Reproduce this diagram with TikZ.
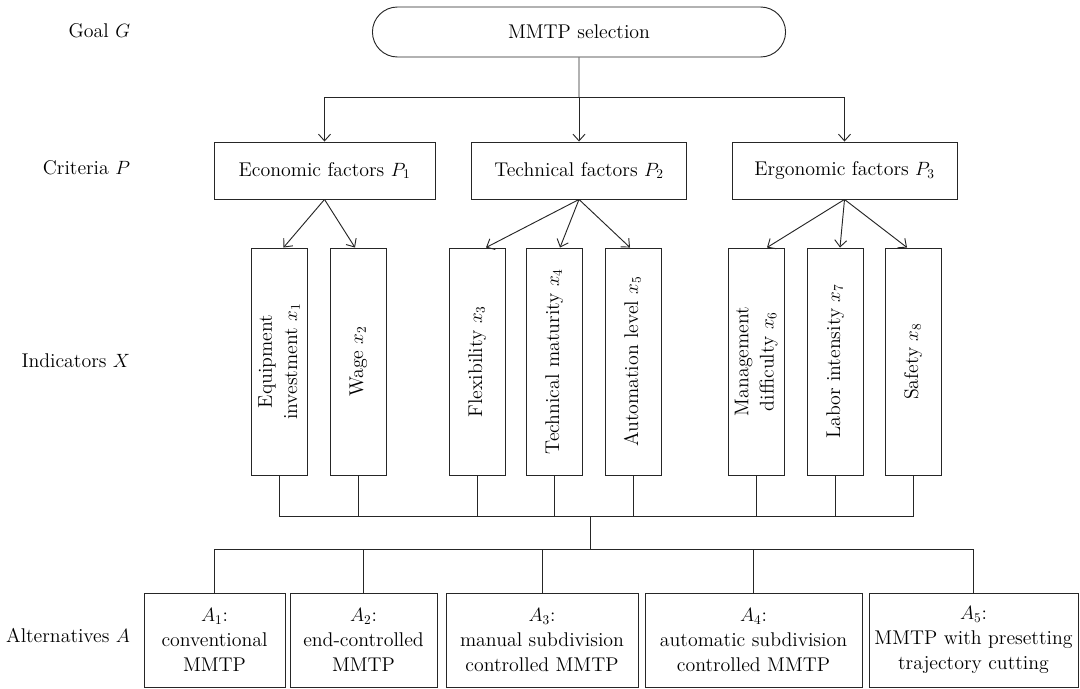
\documentclass[tikz,border=0pt]{standalone}
\usepackage{amsmath}
\usepackage{tikz}
\usetikzlibrary{arrows.meta,calc,positioning,shapes.misc}
\newcommand{\vtext}[1]{\rotatebox{90}{\begin{tabular}{@{}c@{}}#1\end{tabular}}}
\tikzset{%
	goal/.style     = {draw, rounded rectangle, minimum width=316.5pt, minimum height=37.5pt},
	crit/.style     = {draw, rectangle, minimum height=42.75pt, text centered},
	indic/.style    = {draw, rectangle, minimum width=42pt, minimum height=170.25pt, inner sep=0pt},
	alt/.style      = {draw, rectangle, minimum height=70.5pt, inner sep=1pt, align=center}, % Alternative
	level/.style    = {anchor=east}, % Level label
	arrow/.style    = {-{Straight Barb[length=5pt,width=9pt]}},
}

\begin{document}
\begin{tikzpicture}[x=0.75pt,y=-0.75pt,line width=0.7pt,draw=black!85,
	font=\fontsize{14.9pt}{18.8pt}\selectfont]
	\useasboundingbox (0,0) rectangle (1080,688);
	% level labels
	\node [level] (LG) at (135,31) {Goal $G$};
	\node [level] (LP) at (135,168) {Criteria $P$};
	\node [level] (LX) at (135,361) {Indicators $X$};
	\node [level] (LA) at (135,635) {Alternatives $A$};
	% goal
	\node [goal] (G) at (579,32) {MMTP selection};
	% criteria
	\node [crit, minimum width=165.75pt] (P1) at (324.5,170.5) {Economic factors $P_1$};
	\node [crit, minimum width=161.25pt] (P2) at (579,170.5) {Technical factors $P_2$};
	\node [crit, minimum width=168.75pt] (P3) at (844.5,170.5) {Ergonomic factors $P_3$};
	% indicators
	\node [indic] (x1) at (279.5,361.5) {\vtext{Equipment\\investment $x_1$}};
	\node [indic] (x2) at (358,361.5) {\vtext{Wage $x_2$}};
	\node [indic] (x3) at (477,361.5) {\vtext{Flexibility $x_3$}};
	\node [indic] (x4) at (554,361.5) {\vtext{Technical maturity $x_4$}};
	\node [indic] (x5) at (633,361.5) {\vtext{Automation level $x_5$}};
	\node [indic] (x6) at (756,361.5) {\vtext{Management\\difficulty $x_6$}};
	\node [indic] (x7) at (835,361.5) {\vtext{Labor intensity $x_7$}};
	\node [indic] (x8) at (913,361.5) {\vtext{Safety $x_8$}};
	% alternatives
	\node [alt, minimum width=105.75pt] (A1) at (214.5,640) {$A_1$:\\conventional\\MMTP};
	\node [alt, minimum width=110.25pt] (A2) at (363.5,640) {$A_2$:\\end-controlled\\MMTP};
	\node [alt, minimum width=144pt] (A3) at (542,640) {$A_3$:\\manual subdivision\\controlled MMTP};
	\node [alt, minimum width=162.75pt] (A4) at (753.5,640) {$A_4$:\\automatic subdivision\\controlled MMTP};
	\node [alt, minimum width=156.75pt] (A5) at (973.5,640) {$A_5$:\\MMTP with presetting\\trajectory cutting};
	% bus points
	\coordinate (top) at (579,97);
	\coordinate (mid) at (590,516);
	\coordinate (low) at (590,549);
	% goal to criteria
	\draw (G) -- (top);
	\draw[arrow] (top) -| (P1.north);
	\draw[arrow] (top) -- (P2.north);
	\draw[arrow] (top) -| (P3.north);
	% criteria to indicators
	\draw[arrow] (P1.south) -- ($(x1.north)+(4,0)$);
	\draw[arrow] (P1.south) -- ($(x2.north)+(-3,0)$);
	\draw[arrow] (P2.south) -- ($(x3.north)+(9,0)$);
	\draw[arrow] (P2.south) -- ($(x4.north)+(6,0)$);
	\draw[arrow] (P2.south) -- ($(x5.north)+(-3,0)$);
	\draw[arrow] (P3.south) -- ($(x6.north)+(11,0)$);
	\draw[arrow] (P3.south) -- ($(x7.north)+(5,0)$);
	\draw[arrow] (P3.south) -- ($(x8.north)+(-6,0)$);
	% indicators to alternatives
	\foreach \i in {1,...,8}
		\draw (x\i.south) |- (mid);
	\draw (mid) -- (low);
	\foreach \i in {1,...,5}
		\draw (low) -| (A\i.north);
\end{tikzpicture}
\end{document}
